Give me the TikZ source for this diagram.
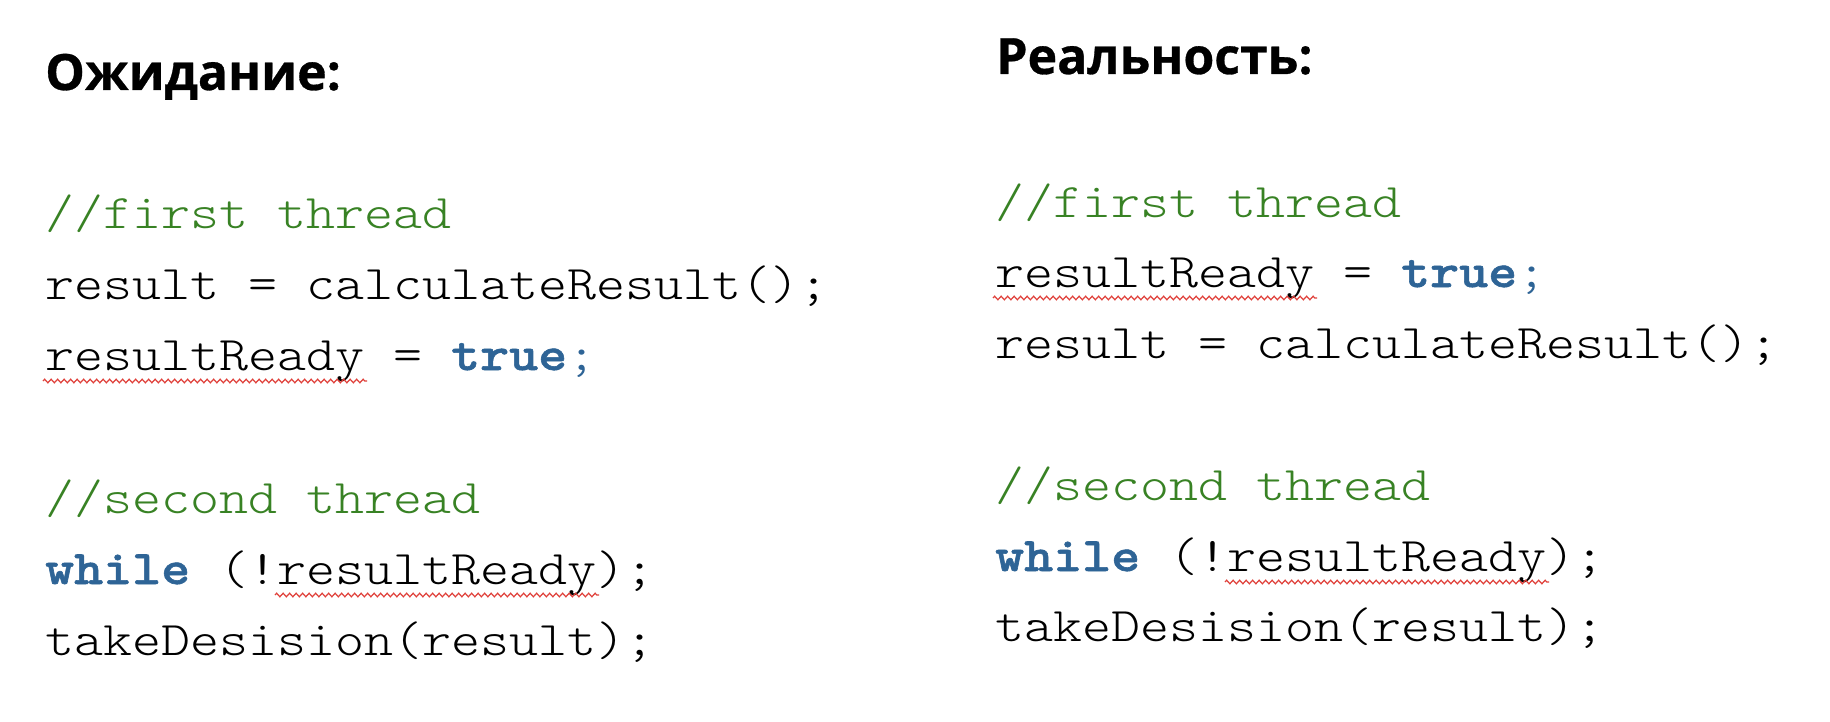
\documentclass[tikz,border=0pt]{standalone}
\usepackage{fontspec}
\setmonofont[FakeStretch=1.1436]{lmmonolt10-regular.otf}
\newfontfamily\kwfont[FakeStretch=1.1436,FakeBold=1.2]{lmmonolt10-bold.otf}
\newfontfamily\headfont[FakeBold=0.6]{Open Sans Bold}
\usetikzlibrary{calc,decorations.pathmorphing}
\definecolor{cmtgreen}{RGB}{56,130,36}
\definecolor{kwblue}{RGB}{46,100,150}
\definecolor{spellred}{RGB}{224,64,58}
\tikzset{
  code/.style={anchor=base west, inner sep=0pt, font=\fontsize{48.3}{58}\selectfont\ttfamily},
  cmt/.style={code, text=cmtgreen},
  head/.style={anchor=base west, inner sep=0pt, font=\fontsize{50}{60}\selectfont\headfont},
  spell/.style={draw=spellred, line width=1.2pt, decorate, decoration={zigzag, segment length=6.5pt, amplitude=1.8pt}}
}
\newcommand{\kw}[1]{{\kwfont\color{kwblue}#1}}
\begin{document}
\begin{tikzpicture}[x=1pt,y=-1pt]
\useasboundingbox[fill=white] (0,0) rectangle (1830,722);
% left column
\node[head] (hl) at (45,90) {Ожидание:};
\node[cmt]  (l1) at (45,228) {//first thread};
\node[code] (l2) at (45,299) {result = calculateResult();};
\node[code] (l3) at (45,370) {resultReady = \kw{true}\textcolor{kwblue}{;}};
\node[cmt]  (l4) at (45,513) {//second thread};
\node[code] (l5) at (45,584) {\kw{while} (!resultReady);};
\node[code] (l6) at (45,655) {takeDesision(result);};
% right column
\node[head] (hr) at (996,74) {Реальность:};
\node[cmt]  (r1) at (995,217) {//first thread};
\node[code] (r2) at (995,287) {resultReady = \kw{true}\textcolor{kwblue}{;}};
\node[code] (r3) at (995,358) {result = calculateResult();};
\node[cmt]  (r4) at (995,500) {//second thread};
\node[code] (r5) at (995,571) {\kw{while} (!resultReady);};
\node[code] (r6) at (995,641) {takeDesision(result);};
% spelling underlines
\draw[spell] ($(l3.base west)+(-2,11)$) -- ++(324,0);
\draw[spell] ($(l5.base west)+(230,11)$) -- ++(324,0);
\draw[spell] ($(r2.base west)+(-2,11)$) -- ++(324,0);
\draw[spell] ($(r5.base west)+(230,11)$) -- ++(324,0);
\end{tikzpicture}
\end{document}
